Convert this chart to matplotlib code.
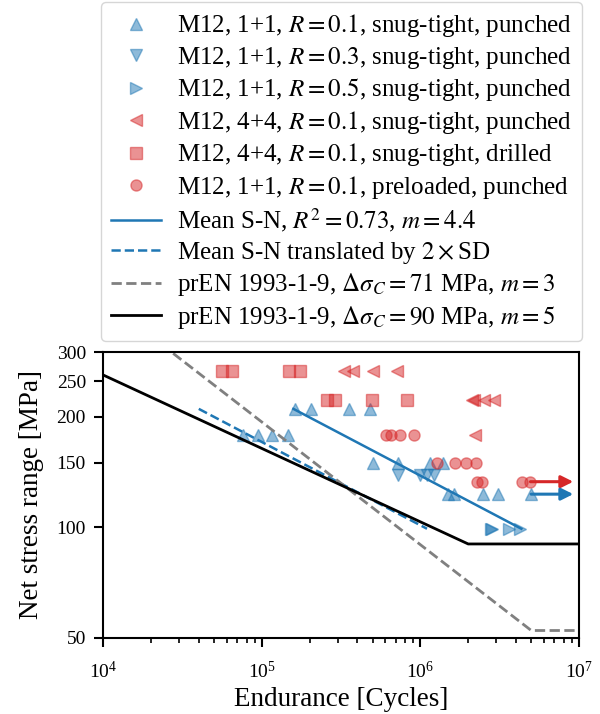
import numpy as np
import matplotlib
matplotlib.use("Agg")
from matplotlib import pyplot as plt
from matplotlib.ticker import NullLocator

plt.rcParams['font.family'] = 'serif'
plt.rcParams['font.serif'] = ['Liberation Serif', 'DejaVu Serif']
plt.rcParams['mathtext.fontset'] = 'stix'

blue = '#1f77b4'
red = '#d62728'

# M12, 1+1, R=0.1, snug-tight, punched
n_11_r01 = [1.62e5, 2.03e5, 3.56e5, 4.80e5,
            7.6e4, 9.5e4, 1.15e5, 1.46e5,
            5.04e5, 7.25e5, 1.15e6, 1.39e6,
            1.50e6, 1.63e6, 2.49e6, 3.09e6, 4.99e6]
s_11_r01 = [210, 210, 210, 210,
            178, 178, 178, 178,
            150, 150, 150, 150,
            123, 123, 123, 123, 123]
# M12, 1+1, R=0.3
n_11_r03 = [7.25e5, 1.0e6, 1.10e6, 1.22e6]
s_11_r03 = [139, 139, 139, 139]
# M12, 1+1, R=0.5
n_11_r05 = [2.78e6, 2.83e6, 3.61e6, 4.27e6]
s_11_r05 = [99, 99, 99, 99]
# M12, 4+4, R=0.1, snug-tight, punched
n_44_p = [3.29e5, 3.73e5, 5.04e5, 7.08e5, 2.11e6, 2.17e6, 2.50e6, 2.89e6, 2.21e6]
s_44_p = [266, 266, 266, 266, 222, 222, 222, 222, 178]
# M12, 4+4, R=0.1, snug-tight, drilled
n_44_d = [5.63e4, 6.51e4, 1.48e5, 1.74e5, 2.56e5, 2.89e5, 4.92e5, 8.26e5]
s_44_d = [266, 266, 266, 266, 222, 222, 222, 222]
# M12, 1+1, R=0.1, preloaded, punched
n_pre = [6.06e5, 6.52e5, 7.48e5, 9.1e5,
         1.265e6, 1.65e6, 1.94e6, 2.24e6,
         2.27e6, 2.44e6, 4.35e6, 4.94e6]
s_pre = [178, 178, 178, 178,
         150, 150, 150, 150,
         133, 133, 133, 133]

# S-N lines
mean_n = [1.58e5, 4.33e6]
mean_s = [210, 99]
mean2sd_n = [4.0e4, 1.10e6]
mean2sd_s = [210, 99]
ec71_n = [1e4, 5e6, 1e7]
ec71_s = [417.4, 52.3, 52.3]
ec90_n = [1e4, 2e6, 1e7]
ec90_s = [259.6, 90, 90]

runout_end = 9.2e6

fig = plt.figure(figsize=(6, 7.14), dpi=100)
ax = fig.add_axes([0.1722, 0.1069, 0.7928, 0.4001])

mk = dict(linestyle='none', markersize=8, alpha=0.5)
ax.plot(n_11_r01, s_11_r01, '^', color=blue, label=r'M12, 1+1, $R=0.1$, snug-tight, punched', **mk)
ax.plot(n_11_r03, s_11_r03, 'v', color=blue, label=r'M12, 1+1, $R=0.3$, snug-tight, punched', **mk)
ax.plot(n_11_r05, s_11_r05, '>', color=blue, label=r'M12, 1+1, $R=0.5$, snug-tight, punched', **mk)
ax.plot(n_44_p, s_44_p, '<', color=red, label=r'M12, 4+4, $R=0.1$, snug-tight, punched', **mk)
ax.plot(n_44_d, s_44_d, 's', color=red, label=r'M12, 4+4, $R=0.1$, snug-tight, drilled', **mk)
ax.plot(n_pre, s_pre, 'o', color=red, label=r'M12, 1+1, $R=0.1$, preloaded, punched', **mk)

ax.plot(mean_n, mean_s, '-', color=blue, lw=1.8, label=r'Mean S-N, $R^2=0.73$, $m=4.4$')
ax.plot(mean2sd_n, mean2sd_s, '--', color=blue, lw=1.8, label=r'Mean S-N translated by $2\times$SD')
ax.plot(ec71_n, ec71_s, '--', color='gray', lw=2, label=r'prEN 1993-1-9, $\Delta\sigma_C=71$ MPa, $m=3$')
ax.plot(ec90_n, ec90_s, '-', color='black', lw=2, label=r'prEN 1993-1-9, $\Delta\sigma_C=90$ MPa, $m=5$')

# run-outs
for n, s, c in [(n_pre[-1], s_pre[-1], red), (n_11_r01[-1], s_11_r01[-1], blue)]:
    ax.annotate('', xy=(runout_end, s), xytext=(n, s),
                arrowprops=dict(arrowstyle='-|>', color=c, lw=2.2, mutation_scale=18,
                                shrinkA=0, shrinkB=0))

ax.set_xscale('log')
ax.set_yscale('log')
ax.set_xlim(1e4, 1e7)
ax.set_ylim(50, 300)
yt = [50, 100, 150, 200, 250, 300]
ax.set_yticks(yt)
ax.set_yticklabels([str(v) for v in yt])
ax.yaxis.set_minor_locator(NullLocator())

ax.tick_params(which='both', direction='out', top=False, right=False, labelsize=14)
ax.tick_params(which='major', length=6.5, width=1.5)
ax.tick_params(which='minor', length=3.5, width=1.2)
ax.tick_params(axis='x', which='major', pad=10)
ax.tick_params(axis='y', which='major', pad=6)
for sp in ax.spines.values():
    sp.set_linewidth(1.5)

ax.set_xlabel('Endurance [Cycles]', fontsize=19.5, labelpad=4)
ax.set_ylabel('Net stress range [MPa]', fontsize=19.5, labelpad=9)

ax.legend(loc='lower center', bbox_to_anchor=(0.5, 1.0), fontsize=18,
          borderaxespad=0.45, labelspacing=0.22, handletextpad=0.65)

fig.savefig('out.png', dpi=100)
